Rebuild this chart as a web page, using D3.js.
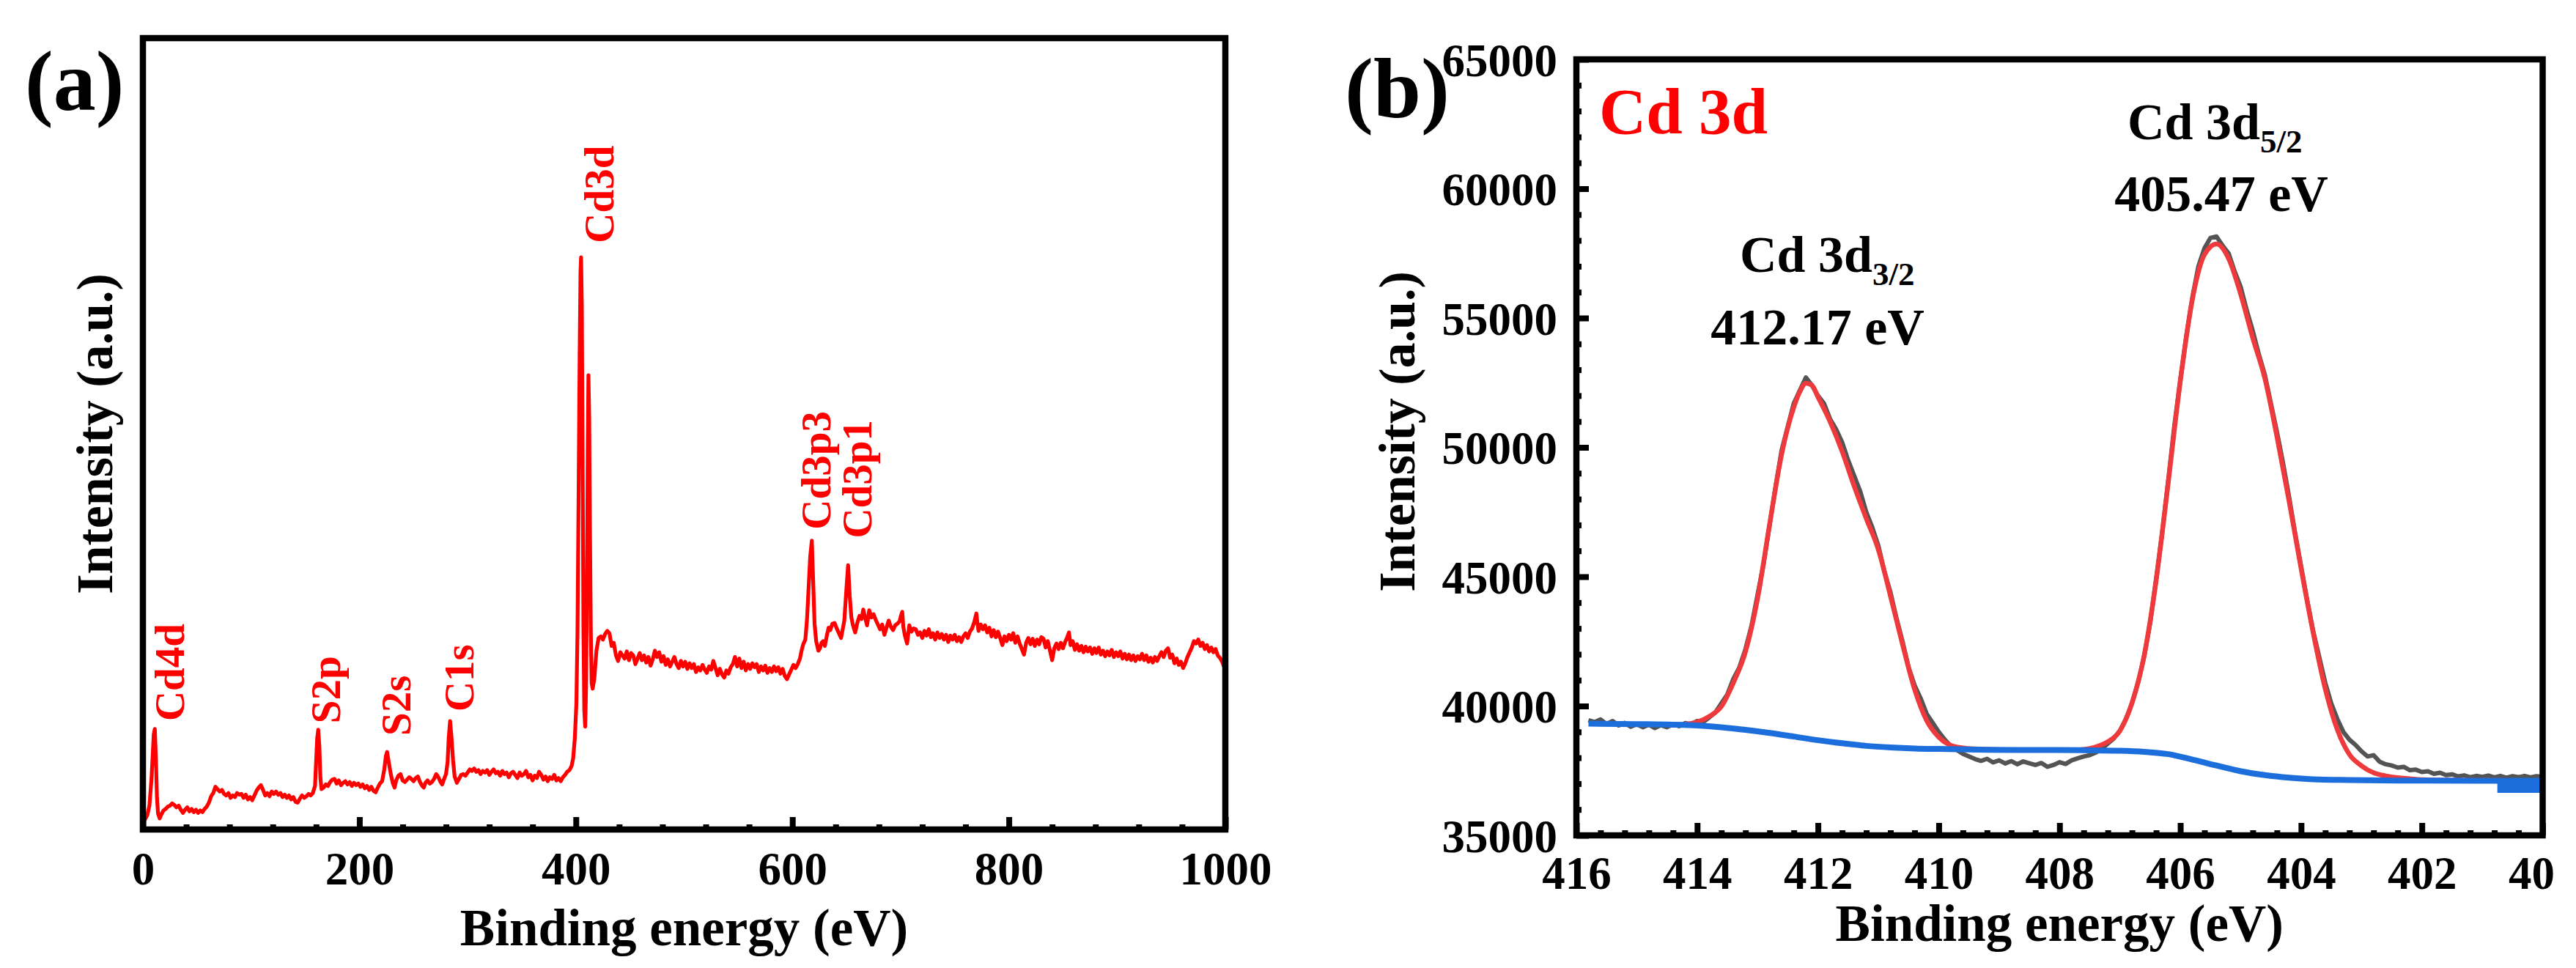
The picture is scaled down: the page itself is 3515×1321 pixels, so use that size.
<!DOCTYPE html>
<html><head><meta charset="utf-8">
<script src="https://cdn.jsdelivr.net/npm/d3@7"></script>
<style>
html,body{margin:0;padding:0;background:#fff;overflow:hidden;}
svg text{font-family:'Liberation Serif','Times New Roman',serif;font-weight:bold;}
</style></head><body>
<svg id="fig" width="3515" height="1321"></svg>
<script>
// ---------------- DATA ----------------
// Panel (a): XPS survey spectrum [binding energy eV, intensity a.u.]
const surveySpectrum = [
[0,1.0],[2,1.3],[4,1.8],[6,3.0],[8,6.5],[10,12.0],[11,12.7],[12,9.0],[13,4.0],[14,2.0],[15.5,1.4],[17,1.9],[19,2.4],[21,2.6],[23,2.9],[25,3.0],[27,3.3],[29,3.1],[31,2.8],[33,3.0],[35,2.5],[37,2.1],[39,2.5],[41,2.8],[43,2.3],[45,2.6],[47,2.2],[49,2.5],[51,2.1],[53,2.4],[55,2.2],[57,2.6],[59,2.9],[61,3.4],[63,4.2],[65,4.6],[67,5.4],[69,5.1],[71,4.8],[73,5.0],[75,4.5],[77,4.3],[79,4.6],[81,4.0],[83,4.3],[85,4.1],[87,4.6],[89,4.4],[91,4.5],[93,4.0],[95,4.4],[97,3.8],[99,4.1],[101,3.7],[103,4.3],[105,4.9],[107,5.3],[109,5.6],[111,5.0],[113,4.3],[115,4.6],[117,4.2],[119,4.8],[121,4.5],[123,4.8],[125,4.4],[127,4.6],[129,4.1],[131,4.4],[133,4.0],[135,4.3],[137,3.8],[139,4.1],[141,3.5],[143,3.4],[145,3.9],[147,4.3],[149,4.0],[151,4.2],[153,4.5],[155,4.3],[157,4.6],[159,5.5],[160,8.5],[161,11.5],[162,12.6],[163,10.5],[164,6.5],[165,5.1],[167,5.3],[169,5.7],[171,5.5],[173,6.0],[175,6.3],[177,6.4],[179,5.8],[181,6.2],[183,5.6],[185,5.9],[187,6.1],[189,5.7],[191,6.0],[193,5.5],[195,5.9],[197,5.6],[199,5.8],[201,5.4],[203,5.7],[205,5.2],[207,5.5],[209,5.0],[211,5.4],[213,4.9],[215,4.7],[217,5.3],[219,5.8],[221,6.1],[223,7.6],[224.5,9.3],[225.6,9.8],[227,8.6],[229,7.0],[231,5.8],[232.5,5.3],[234,6.2],[236,6.8],[238,7.0],[240,6.2],[242,6.0],[244,6.3],[246,6.6],[248,6.4],[250,6.1],[252,6.5],[254,6.7],[256,6.0],[258,5.5],[259.5,5.3],[261,5.9],[263,6.2],[265,5.8],[267,6.0],[269,6.4],[271,7.0],[273,6.6],[275,6.0],[276.5,5.7],[278,6.3],[280,7.0],[281.5,8.5],[282.5,11.5],[283.8,13.7],[285,11.8],[286.5,8.8],[288,6.7],[290,5.9],[292,6.4],[294,6.9],[296,7.0],[298,6.8],[300,7.2],[302,7.6],[304,7.4],[306,7.7],[308,7.3],[310,7.5],[312,7.0],[314,7.4],[316,7.2],[318,7.5],[320,6.9],[322,7.3],[324,7.6],[326,7.1],[328,7.3],[330,6.8],[332,7.4],[334,7.0],[336,7.2],[338,6.6],[340,7.1],[342,7.3],[344,6.9],[346,6.5],[348,7.2],[350,6.8],[352,7.0],[354,7.4],[356,6.6],[358,6.9],[360,6.2],[362,6.8],[364,6.5],[366,7.3],[368,6.9],[370,6.3],[372,6.7],[374,6.1],[376,6.6],[378,6.4],[380,6.9],[382,6.2],[384,6.5],[386,6.1],[388,6.6],[390,6.9],[392,7.3],[394,7.5],[396,8.0],[397.5,9.0],[399,11.5],[400.5,16.0],[401.5,25.0],[402.5,42.0],[403.5,60.0],[404.3,70.5],[404.8,72.3],[405.5,66.0],[406.3,45.0],[407,25.0],[407.8,15.0],[408.6,13.0],[409.4,18.0],[410.2,30.0],[411,48.0],[411.6,57.4],[412.3,52.0],[413,38.0],[413.8,25.0],[414.6,18.5],[415.5,17.8],[417,19.0],[419,22.6],[421,24.2],[423,24.4],[425,24.0],[427,24.7],[429,25.1],[431,24.8],[433,23.2],[435,23.6],[437,22.0],[439,21.3],[441,22.4],[443,22.0],[445,21.6],[447,22.5],[449,21.4],[451,22.3],[453,22.0],[455,20.9],[457,21.6],[459,22.3],[461,21.4],[463,22.0],[465,21.1],[467,21.8],[469,20.7],[471,21.5],[473,22.6],[475,21.8],[477,22.4],[479,21.2],[481,21.9],[483,20.8],[485,21.5],[487,20.6],[489,21.2],[491,21.8],[493,20.9],[495,20.4],[497,21.3],[499,20.6],[501,21.2],[503,20.3],[505,21.0],[507,20.4],[509,20.9],[511,19.9],[513,20.5],[515,20.1],[517,20.8],[519,20.2],[521,19.8],[523,20.6],[525,20.2],[527,21.3],[529,20.4],[531,19.5],[533,20.3],[535,19.6],[537,19.2],[539,20.1],[541,19.7],[543,20.5],[545,20.9],[547,21.8],[549,20.6],[551,21.6],[553,20.4],[555,21.2],[557,20.1],[559,20.9],[561,20.3],[563,21.0],[565,20.5],[567,20.9],[569,19.9],[571,20.6],[573,20.1],[575,20.7],[577,19.8],[579,20.4],[581,19.9],[583,20.6],[585,20.0],[587,20.5],[589,19.7],[591,20.3],[593,19.4],[595,19.0],[597,19.6],[599,20.2],[601,20.8],[603,20.4],[605,20.9],[607,21.6],[608.5,22.6],[610,23.4],[612,24.0],[613.5,26.5],[615,30.5],[616.5,34.5],[618,36.5],[619.3,31.0],[620.5,26.0],[622,23.8],[624,22.6],[625.5,22.9],[627,23.6],[628.5,23.8],[630,23.2],[632,24.6],[633.5,25.5],[635,25.2],[637,26.0],[639,26.1],[641,25.4],[643,24.8],[645,24.2],[646.5,25.3],[648,26.4],[649.5,29.5],[651.5,33.4],[653,29.5],[654.5,26.8],[656,25.8],[658,24.9],[660,26.1],[662,27.0],[664,26.6],[665.5,27.8],[667,26.9],[669,25.8],[671,27.7],[673,26.8],[675,27.2],[677,26.5],[679,25.9],[681,25.3],[683,25.9],[685,24.6],[687,25.5],[689,26.4],[691,25.6],[693,25.2],[695,25.8],[697,26.0],[699,26.3],[700.5,27.1],[701.5,27.5],[702.5,25.6],[704,24.5],[706,23.5],[708,25.8],[710,25.0],[712,25.4],[714,25.3],[716,24.6],[718,24.9],[720,24.2],[722,25.1],[724,24.5],[726,25.3],[728,24.3],[730,24.8],[732,24.0],[734,24.9],[736,24.2],[738,24.7],[740,24.0],[742,24.6],[744,23.7],[746,24.5],[748,24.0],[750,24.6],[752,23.8],[754,24.3],[756,23.7],[758,24.4],[760,24.8],[762,24.2],[764,25.0],[766,25.4],[768,26.2],[770,27.3],[771,26.0],[772,25.1],[774,25.9],[776,25.3],[778,25.8],[780,24.9],[782,25.5],[784,24.4],[786,25.2],[788,24.3],[790,25.0],[792,24.2],[794,23.3],[796,24.4],[798,23.8],[800,24.6],[802,24.0],[804,24.8],[806,23.6],[808,24.4],[810,23.5],[812,22.8],[814,22.1],[816,23.6],[818,24.2],[820,23.4],[822,24.1],[824,23.2],[826,24.0],[828,23.4],[830,24.3],[832,24.1],[834,23.0],[836,23.8],[838,22.6],[840,21.4],[842,22.9],[844,23.5],[846,22.8],[848,23.6],[850,22.9],[852,23.7],[854,24.3],[855.5,24.9],[857,23.3],[859,23.8],[861,22.7],[863,23.4],[865,22.6],[867,23.2],[869,22.4],[871,23.1],[873,22.5],[875,23.0],[877,22.2],[879,22.9],[881,22.3],[883,23.0],[885,22.1],[887,22.6],[889,21.9],[891,22.5],[893,22.0],[895,22.7],[897,21.8],[899,22.4],[901,21.9],[903,22.5],[905,21.6],[907,22.2],[909,21.5],[911,22.1],[913,21.4],[915,22.0],[917,21.3],[919,21.9],[921,21.5],[923,22.2],[925,21.4],[927,22.0],[929,21.2],[931,21.7],[933,21.1],[935,21.8],[937,21.3],[939,21.9],[941,22.4],[943,21.8],[945,22.6],[947,22.9],[949,21.7],[951,22.1],[953,21.0],[955,21.6],[957,20.8],[959,21.2],[961,20.4],[963,21.0],[965,21.8],[967,22.4],[969,23.0],[971,23.8],[973,23.5],[975,24.0],[977,23.2],[979,23.6],[981,22.8],[983,23.3],[985,22.5],[987,23.0],[989,22.4],[991,22.8],[993,22.0],[995,21.7],[997,21.2],[999,20.5],[1000,21.0]
];
// Peak labels of panel (a): name, energy, intensity where the label starts
const surveyLabels = ["Cd4d","S2p","S2s","C1s","Cd3d","Cd3p3","Cd3p1"];
const surveyLabelE = [37.9, 182.1, 247.0, 305.2, 434.5, 634.9, 672.8];
const surveyLabelI = [13.7, 13.4, 11.85, 14.9, 74.1, 37.9, 36.8];
const surveyXMajor = [0,200,400,600,800,1000];
const surveyXMinor = [40,80,120,160,240,280,320,360,440,480,520,560,640,680,720,760,840,880,920,960];

// Panel (b): Cd 3d high resolution [binding energy eV, counts]
const cdRaw = [
[415.8,39450],[415.7,39380],[415.6,39480],[415.5,39300],[415.4,39420],[415.3,39250],[415.2,39350],[415.1,39200],[415.0,39300],[414.9,39180],[414.8,39280],[414.7,39150],[414.6,39260],[414.5,39180],[414.4,39300],[414.3,39220],[414.2,39340],[414.1,39290],[414.0,39420],[413.9,39380],[413.8,39560],[413.7,39750],[413.6,40100],[413.5,40450],[413.4,41050],[413.3,41500],[413.2,42200],[413.1,43100],[413.0,44300],[412.9,45500],[412.8,47000],[412.7,48500],[412.6,49900],[412.5,50800],[412.4,51700],[412.3,52200],[412.2,52700],[412.1,52400],[412.0,52000],[411.9,51700],[411.8,51100],[411.7,50700],[411.6,50200],[411.5,49500],[411.4,48900],[411.3,48300],[411.2,47500],[411.1,46900],[411.0,46200],[410.9,45200],[410.8,44400],[410.7,43400],[410.6,42500],[410.5,41500],[410.4,40800],[410.3,40300],[410.2,39700],[410.1,39350],[410.0,39000],[409.9,38700],[409.8,38450],[409.7,38300],[409.6,38150],[409.5,38050],[409.4,37950],[409.3,37880],[409.2,37960],[409.1,37820],[409.0,37900],[408.9,37780],[408.8,37870],[408.7,37750],[408.6,37860],[408.5,37790],[408.4,37720],[408.3,37800],[408.2,37650],[408.1,37720],[408.0,37830],[407.9,37760],[407.8,37900],[407.7,37980],[407.6,38050],[407.5,38100],[407.4,38200],[407.3,38350],[407.2,38550],[407.1,38750],[407.0,39050],[406.9,39500],[406.8,40100],[406.7,40900],[406.6,41900],[406.5,43200],[406.4,44900],[406.3,46700],[406.2,48700],[406.1,50800],[406.0,52600],[405.9,54300],[405.8,55800],[405.7,57000],[405.6,57700],[405.5,58100],[405.4,58150],[405.3,57800],[405.2,57500],[405.1,56800],[405.0,56200],[404.9,55300],[404.8,54500],[404.7,53600],[404.6,52800],[404.5,51700],[404.4,50600],[404.3,49400],[404.2,48100],[404.1,46700],[404.0,45400],[403.9,44100],[403.8,42900],[403.7,41900],[403.6,40900],[403.5,40100],[403.4,39500],[403.3,39000],[403.2,38700],[403.1,38500],[403.0,38250],[402.9,38050],[402.8,38100],[402.7,37850],[402.6,37750],[402.5,37700],[402.4,37620],[402.3,37650],[402.2,37520],[402.1,37540],[402.0,37450],[401.9,37480],[401.8,37380],[401.7,37420],[401.6,37330],[401.5,37360],[401.4,37280],[401.3,37320],[401.2,37250],[401.1,37300],[401.0,37260],[400.9,37310],[400.8,37240],[400.7,37300],[400.6,37230],[400.5,37290],[400.4,37250],[400.3,37300],[400.2,37240],[400.1,37290],[400.0,37260]
];
const cdFit = [
[414.2,39300],[414.0,39380],[413.8,39600],[413.6,39980],[413.4,40900],[413.2,42100],[413.0,44150],[412.8,47030],[412.6,49750],[412.4,51550],[412.3,52150],[412.2,52480],[412.1,52400],[412.0,51950],[411.8,51000],[411.6,49850],[411.4,48500],[411.2,47250],[411.0,46050],[410.8,44260],[410.6,42390],[410.4,40650],[410.2,39440],[410.0,38800],[409.8,38480],[409.6,38380],[409.4,38340],[409.0,38310],[408.6,38300],[408.2,38290],[407.8,38290],[407.6,38320],[407.4,38420],[407.2,38620],[407.0,39040],[406.8,40120],[406.6,41930],[406.4,44860],[406.2,48640],[406.0,52560],[405.8,55720],[405.6,57450],[405.4,57860],[405.2,57300],[405.0,55920],[404.8,54230],[404.6,52670],[404.4,50420],[404.2,47940],[404.0,45320],[403.8,42840],[403.6,40670],[403.4,39090],[403.2,38130],[403.0,37690],[402.8,37420],[402.6,37300],[402.4,37230],[402.2,37190],[402.0,37150],[401.5,37130],[401.0,37125],[400.5,37120],[400.0,37120]
];
const cdBackground = [
[415.8,39320],[415.0,39300],[414.4,39280],[414.0,39250],[413.6,39180],[413.2,39080],[412.8,38960],[412.4,38820],[412.0,38680],[411.6,38560],[411.2,38460],[410.8,38400],[410.4,38360],[410.0,38340],[409.2,38310],[408.4,38300],[407.6,38290],[407.0,38270],[406.6,38230],[406.2,38140],[405.8,37930],[405.4,37700],[405.0,37480],[404.6,37330],[404.2,37230],[403.8,37170],[403.2,37140],[402.4,37120],[401.0,37110],[400.0,37110]
];
const cdBackgroundEnd = [[400.75,36830],[400.0,36830]];
const cdXMajor = [416,414,412,410,408,406,404,402,400];
const cdXMajorLabels = ["416","414","412","410","408","406","404","402","40"];
const cdXMinor = [415.6,415.2,414.8,414.4,413.6,413.2,412.8,412.4,411.6,411.2,410.8,410.4,409.6,409.2,408.8,408.4,407.6,407.2,406.8,406.4,405.6,405.2,404.8,404.4,403.6,403.2,402.8,402.4,401.6,401.2,400.8,400.4];
const cdYMajor = [35000,40000,45000,50000,55000,60000,65000];
const cdYMinor = [36000,37000,38000,39000,41000,42000,43000,44000,46000,47000,48000,49000,51000,52000,53000,54000,56000,57000,58000,59000,61000,62000,63000,64000];
const cdPeakNames = ["3/2","5/2"];
const cdPeakEnergies = ["412.17 eV","405.47 eV"];

// ---------------- DRAWING ----------------
const W = 3515, H = 1321;
const FONT = "'Liberation Serif','Times New Roman',serif";
const svg = d3.select('#fig');
svg.append('rect').attr('width', W).attr('height', H).attr('fill', '#fff');
const FRAME = 8.5;

function drawAxisTicks(g, axis, strokeW) {
  g.call(axis);
  g.select('.domain').remove();
  g.selectAll('.tick line').attr('stroke', '#000').attr('stroke-width', strokeW);
}

// ===== Panel (a) =====
const A = {left: 195, right: 1672, top: 52, bottom: 1132};
const xa = d3.scaleLinear().domain([0, 1000]).range([A.left, A.right]);
const ya = d3.scaleLinear().domain([0, 100]).range([A.bottom, A.top]);

const lineA = d3.line().x(d => xa(d[0])).y(d => ya(d[1]));
svg.append('path').datum(surveySpectrum).attr('d', lineA)
  .attr('fill', 'none').attr('stroke', '#FF0000').attr('stroke-width', 5.2)
  .attr('stroke-linejoin', 'round');

drawAxisTicks(svg.append('g').attr('transform', `translate(0,${A.bottom})`),
  d3.axisBottom(xa).tickValues(surveyXMinor).tickSize(-7).tickFormat(''), 8);
const gax = svg.append('g').attr('transform', `translate(0,${A.bottom})`);
drawAxisTicks(gax, d3.axisBottom(xa).tickValues(surveyXMajor).tickSize(-17).tickPadding(30).tickFormat(d3.format('d')), 8);
gax.selectAll('.tick text').attr('font-size', 63).attr('fill', '#000')
  .attr('font-family', FONT).attr('font-weight', 'bold');

svg.append('rect').attr('x', A.left).attr('y', A.top)
  .attr('width', A.right - A.left).attr('height', A.bottom - A.top)
  .attr('fill', 'none').attr('stroke', '#000').attr('stroke-width', FRAME);

surveyLabels.forEach((name, i) => {
  svg.append('text')
    .attr('transform', `translate(${xa(surveyLabelE[i])},${ya(surveyLabelI[i])}) rotate(-90)`)
    .attr('text-anchor', 'start').attr('font-size', 57).attr('fill', '#FF0000')
    .text(name);
});

svg.append('text').attr('x', 34).attr('y', 150).attr('font-size', 116).attr('fill', '#000').text('(a)');
svg.append('text').attr('x', (A.left + A.right) / 2).attr('y', 1290).attr('text-anchor', 'middle')
  .attr('font-size', 71).attr('fill', '#000').text('Binding energy (eV)');
svg.append('text').attr('transform', `translate(153,${(A.top + A.bottom) / 2}) rotate(-90)`)
  .attr('text-anchor', 'middle').attr('font-size', 70).attr('fill', '#000').text('Intensity (a.u.)');

// ===== Panel (b) =====
const B = {left: 2151, right: 3469.5, top: 81, bottom: 1140};
const xb = d3.scaleLinear().domain([416, 400]).range([B.left, B.right]);
const yb = d3.scaleLinear().domain([35000, 65000]).range([B.bottom, B.top]);
const lineB = d3.line().x(d => xb(d[0])).y(d => yb(d[1]));
const smoothB = d3.line().curve(d3.curveMonotoneX).x(d => xb(d[0])).y(d => yb(d[1]));

svg.append('path').datum(cdRaw).attr('d', lineB).attr('fill', 'none')
  .attr('stroke', '#545454').attr('stroke-width', 6).attr('stroke-linejoin', 'round');
svg.append('path').datum(cdFit).attr('d', smoothB)
  .attr('fill', 'none').attr('stroke', '#EE3A3C').attr('stroke-width', 6.5);
svg.append('path').datum(cdBackground).attr('d', smoothB)
  .attr('fill', 'none').attr('stroke', '#1B6EDC').attr('stroke-width', 8);
svg.append('path').datum(cdBackgroundEnd).attr('d', lineB)
  .attr('fill', 'none').attr('stroke', '#1B6EDC').attr('stroke-width', 13);

drawAxisTicks(svg.append('g').attr('transform', `translate(0,${B.bottom})`),
  d3.axisBottom(xb).tickValues(cdXMinor).tickSize(-7).tickFormat(''), 8);
const gbx = svg.append('g').attr('transform', `translate(0,${B.bottom})`);
drawAxisTicks(gbx, d3.axisBottom(xb).tickValues(cdXMajor).tickSize(-17).tickPadding(28)
  .tickFormat((d, i) => cdXMajorLabels[i]), 8);
gbx.selectAll('.tick text').attr('font-size', 63).attr('fill', '#000')
  .attr('font-family', FONT).attr('font-weight', 'bold')
  .filter(d => d === 400).attr('text-anchor', 'start').attr('x', -47);

drawAxisTicks(svg.append('g').attr('transform', `translate(${B.left},0)`),
  d3.axisLeft(yb).tickValues(cdYMinor).tickSize(-7).tickFormat(''), 8);
const gby = svg.append('g').attr('transform', `translate(${B.left},0)`);
drawAxisTicks(gby, d3.axisLeft(yb).tickValues(cdYMajor).tickSize(-17).tickPadding(26).tickFormat(d3.format('d')), 8);
gby.selectAll('.tick text').attr('font-size', 63).attr('fill', '#000').attr('dy', '0.35em')
  .attr('font-family', FONT).attr('font-weight', 'bold');

svg.append('rect').attr('x', B.left).attr('y', B.top)
  .attr('width', B.right - B.left).attr('height', B.bottom - B.top)
  .attr('fill', 'none').attr('stroke', '#000').attr('stroke-width', FRAME);

svg.append('text').attr('x', 1835).attr('y', 160).attr('font-size', 117).attr('fill', '#000').text('(b)');
svg.append('text').attr('x', 2182).attr('y', 182).attr('font-size', 89).attr('fill', '#FF0000').text('Cd 3d');

const peakLabelPos = [{x: 2374, y: 371, ex: 2480, ey: 470}, {x: 2903, y: 190, ex: 3031, ey: 288}];
cdPeakNames.forEach((sub, i) => {
  const p = peakLabelPos[i];
  const t = svg.append('text').attr('x', p.x).attr('y', p.y).attr('font-size', 70).attr('fill', '#000');
  t.append('tspan').text('Cd 3d');
  t.append('tspan').attr('font-size', 45).attr('dy', 18).text(sub);
  svg.append('text').attr('x', p.ex).attr('y', p.ey).attr('text-anchor', 'middle')
    .attr('font-size', 70).attr('fill', '#000').text(cdPeakEnergies[i]);
});

svg.append('text').attr('x', (B.left + B.right) / 2).attr('y', 1284).attr('text-anchor', 'middle')
  .attr('font-size', 71).attr('fill', '#000').text('Binding energy (eV)');
svg.append('text').attr('transform', 'translate(1930,589) rotate(-90)')
  .attr('text-anchor', 'middle').attr('font-size', 70).attr('fill', '#000').text('Intensity (a.u.)');
</script>
</body></html>
